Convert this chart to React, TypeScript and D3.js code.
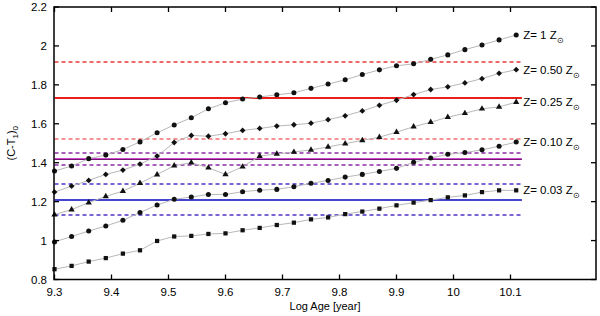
import { useEffect, useRef } from 'react';
import * as d3 from 'd3';

// log age grid (x)
const logAge = [
  9.30, 9.33, 9.36, 9.39, 9.42, 9.45, 9.48, 9.51, 9.54, 9.57,
  9.60, 9.63, 9.66, 9.69, 9.72, 9.75, 9.78, 9.81, 9.84, 9.87,
  9.90, 9.93, 9.96, 9.99, 10.02, 10.05, 10.08, 10.11,
];

// (C-T1)0 for each metallicity
const z100 = [
  1.357, 1.383, 1.421, 1.439, 1.468, 1.507, 1.554, 1.594, 1.631, 1.677,
  1.708, 1.727, 1.738, 1.749, 1.759, 1.782, 1.804, 1.826, 1.853, 1.877,
  1.898, 1.908, 1.931, 1.954, 1.981, 2.005, 2.031, 2.056,
];
const z050 = [
  1.249, 1.280, 1.309, 1.340, 1.362, 1.393, 1.434, 1.504, 1.540, 1.536,
  1.549, 1.566, 1.576, 1.588, 1.595, 1.603, 1.621, 1.641, 1.666, 1.695,
  1.721, 1.750, 1.776, 1.790, 1.810, 1.832, 1.859, 1.878,
];
const z025 = [
  1.133, 1.159, 1.195, 1.227, 1.254, 1.295, 1.339, 1.385, 1.400, 1.374,
  1.340, 1.379, 1.434, 1.445, 1.455, 1.466, 1.481, 1.498, 1.515, 1.531,
  1.557, 1.585, 1.608, 1.634, 1.654, 1.677, 1.687, 1.711,
];
const z010 = [
  0.993, 1.021, 1.049, 1.075, 1.104, 1.144, 1.183, 1.212, 1.224, 1.237,
  1.237, 1.251, 1.259, 1.263, 1.277, 1.294, 1.309, 1.326, 1.340, 1.355,
  1.371, 1.402, 1.424, 1.443, 1.452, 1.466, 1.485, 1.506,
];
const z003 = [
  0.853, 0.870, 0.892, 0.910, 0.933, 0.950, 0.998, 1.021, 1.024, 1.034,
  1.037, 1.053, 1.065, 1.080, 1.092, 1.109, 1.119, 1.136, 1.149, 1.164,
  1.181, 1.195, 1.208, 1.222, 1.232, 1.249, 1.258, 1.258,
];

const seriesLabels = ['1', '0.50', '0.25', '0.10', '0.03'];

// reference levels: [lower, mean, upper]
const redBand = [1.52, 1.73, 1.92];
const purpleBand = [1.39, 1.42, 1.45];
const blueBand = [1.13, 1.21, 1.29];
const bandEnd = 10.12;

const xTicks = [9.3, 9.4, 9.5, 9.6, 9.7, 9.8, 9.9, 10, 10.1];
const yTicks = [0.8, 1, 1.2, 1.4, 1.6, 1.8, 2, 2.2];

export default function App() {
  const svgRef = useRef<SVGSVGElement>(null);
  const width = 600;
  const height = 316;

  useEffect(() => {
    const svg = d3.select(svgRef.current);
    svg.selectAll('*').remove();

    const left = 54, right = 596, top = 7, bottom = 279.5;
    const font = 'Liberation Sans, Arial, Helvetica, sans-serif';

    const x = d3.scaleLinear().domain([9.3, 10.25]).range([left + 0.5, right]);
    const y = d3.scaleLinear().domain([0.8, 2.2]).range([bottom, top]);

    svg.append('rect')
      .attr('width', width)
      .attr('height', height)
      .attr('fill', 'white');

    // horizontal reference lines
    const hline = (v: number, color: string, w: number, dash: string | null, dy = 0) => {
      const yy = Math.round(y(v)) + dy;
      svg.append('line')
        .attr('x1', x(9.3))
        .attr('x2', x(bandEnd))
        .attr('y1', yy)
        .attr('y2', yy)
        .attr('stroke', color)
        .attr('stroke-width', w)
        .attr('stroke-dasharray', dash);
    };

    hline(redBand[2], '#e83838', 1.3, '4,3');
    hline(redBand[1], '#e8201c', 2, null);
    hline(redBand[0], '#f07070', 1.3, '4,3');

    hline(purpleBand[2], '#8a2aa8', 1.3, '4,3');
    hline(purpleBand[1], '#d048d0', 1, null, -0.5);
    hline(purpleBand[1], '#701870', 1, null, 0.5);
    hline(purpleBand[0], '#8a2aa8', 1.3, '4,3');

    hline(blueBand[2], '#5030c8', 1.3, '4,3');
    hline(blueBand[1], '#4444cc', 2, null);
    hline(blueBand[0], '#5030c8', 1.3, '4,3');

    // series
    const allSeries = [z100, z050, z025, z010, z003];
    const symbols = [d3.symbolCircle, d3.symbolSquare, d3.symbolTriangle, d3.symbolCircle, d3.symbolSquare];
    const sizes = [20, 17, 17, 20, 18];
    const rotations = [0, 45, 0, 0, 0];

    const lineGen = d3.line<number>()
      .x((d, i) => x(logAge[i]))
      .y(d => y(d));

    allSeries.forEach((vals, s) => {
      svg.append('path')
        .attr('d', lineGen(vals) || '')
        .attr('fill', 'none')
        .attr('stroke', '#b8b8b8')
        .attr('stroke-width', 1);

      const sym = d3.symbol().type(symbols[s]).size(sizes[s]);
      svg.append('g')
        .selectAll('path')
        .data(vals)
        .enter().append('path')
        .attr('transform', (d, i) => `translate(${x(logAge[i])},${y(d)}) rotate(${rotations[s]})`)
        .attr('d', sym() || '')
        .attr('fill', '#111');

      const last = vals[vals.length - 1];
      const label = svg.append('text')
        .attr('x', x(logAge[logAge.length - 1]) + 7)
        .attr('y', y(last) + 4)
        .style('font-family', font)
        .style('font-size', '11.5px')
        .style('fill', '#000');
      label.append('tspan').text(`Z= ${seriesLabels[s]} Z`);
      label.append('tspan')
        .attr('dy', 4)
        .style('font-size', '8px')
        .text('\u2299');
    });

    // frame
    svg.append('rect')
      .attr('x', left)
      .attr('y', top)
      .attr('width', right - left)
      .attr('height', bottom - top)
      .attr('fill', 'none')
      .attr('stroke', '#000')
      .attr('stroke-width', 1.5);

    const tickLen = 5;
    xTicks.forEach(t => {
      svg.append('line')
        .attr('x1', x(t)).attr('x2', x(t))
        .attr('y1', bottom).attr('y2', bottom - tickLen)
        .attr('stroke', '#000').attr('stroke-width', 1.3);
      svg.append('line')
        .attr('x1', x(t)).attr('x2', x(t))
        .attr('y1', top).attr('y2', top + tickLen)
        .attr('stroke', '#000').attr('stroke-width', 1.3);
      svg.append('text')
        .attr('x', x(t))
        .attr('y', bottom + 16)
        .attr('text-anchor', 'middle')
        .style('font-family', font)
        .style('font-size', '11.5px')
        .text(d3.format('~g')(t));
    });

    yTicks.forEach(t => {
      svg.append('line')
        .attr('x1', left).attr('x2', left + tickLen)
        .attr('y1', y(t)).attr('y2', y(t))
        .attr('stroke', '#000').attr('stroke-width', 1.3);
      svg.append('line')
        .attr('x1', right).attr('x2', right - tickLen)
        .attr('y1', y(t)).attr('y2', y(t))
        .attr('stroke', '#000').attr('stroke-width', 1.3);
      svg.append('text')
        .attr('x', left - 7)
        .attr('y', y(t) + 4)
        .attr('text-anchor', 'end')
        .style('font-family', font)
        .style('font-size', '11.5px')
        .text(d3.format('~g')(t));
    });

    // axis titles
    svg.append('text')
      .attr('x', (left + right) / 2)
      .attr('y', 310)
      .attr('text-anchor', 'middle')
      .style('font-family', font)
      .style('font-size', '11px')
      .text('Log Age [year]');

    const yl = svg.append('text')
      .attr('transform', `translate(15, ${(top + bottom) / 2}) rotate(-90)`)
      .attr('text-anchor', 'middle')
      .style('font-family', font)
      .style('font-size', '11px');
    yl.append('tspan').text('(C-T');
    yl.append('tspan').attr('dy', 3).style('font-size', '8px').text('1');
    yl.append('tspan').attr('dy', -3).text(')');
    yl.append('tspan').attr('dy', 3).style('font-size', '8px').text('0');
  }, []);

  return (
    <svg
      ref={svgRef}
      width={width}
      height={height}
      style={{ position: 'absolute', left: 0, top: 0, display: 'block' }}
    />
  );
}
